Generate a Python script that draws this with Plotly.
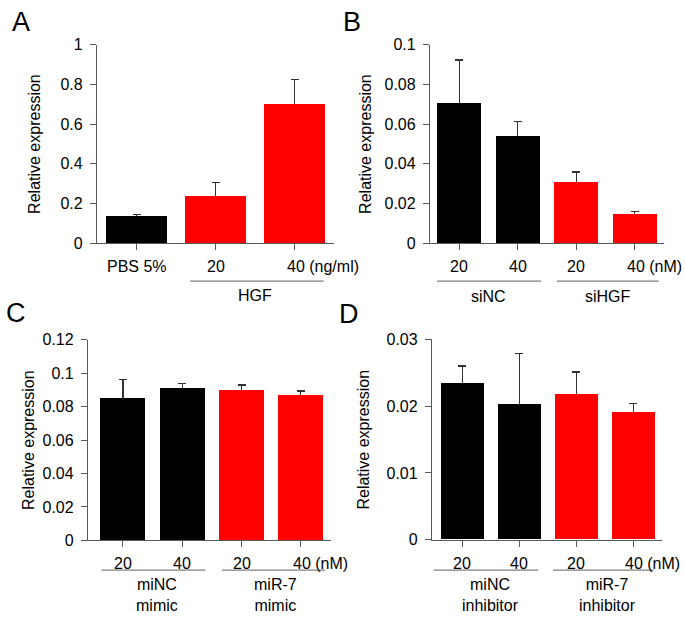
import plotly.graph_objects as go

# ---------------- data ----------------
A_labels = ["PBS 5%", "20", "40 (ng/ml)"]
A_values = [0.137, 0.240, 0.703]
A_errors = [0.007, 0.066, 0.122]
A_colors = ["black", "red", "red"]
A_yticks = [0, 0.2, 0.4, 0.6, 0.8, 1]
A_yticktext = ["0", "0.2", "0.4", "0.6", "0.8", "1"]

B_labels = ["20", "40", "20", "40 (nM)"]
B_values = [0.0708, 0.0540, 0.0308, 0.0150]
B_errors = [0.0215, 0.0074, 0.0051, 0.0009]
B_colors = ["black", "black", "red", "red"]
B_yticks = [0, 0.02, 0.04, 0.06, 0.08, 0.1]
B_yticktext = ["0", "0.02", "0.04", "0.06", "0.08", "0.1"]
B_groups = ["siNC", "siHGF"]

C_labels = ["20", "40", "20", "40 (nM)"]
C_values = [0.0853, 0.0911, 0.0901, 0.0874]
C_errors = [0.0110, 0.0026, 0.0029, 0.0018]
C_colors = ["black", "black", "red", "red"]
C_yticks = [0, 0.02, 0.04, 0.06, 0.08, 0.1, 0.12]
C_yticktext = ["0", "0.02", "0.04", "0.06", "0.08", "0.1", "0.12"]
C_groups = ["miNC<br>mimic", "miR-7<br>mimic"]

D_labels = ["20", "40", "20", "40 (nM)"]
D_values = [0.0234, 0.0203, 0.0218, 0.0190]
D_errors = [0.0026, 0.0076, 0.0033, 0.0014]
D_colors = ["black", "black", "red", "red"]
D_yticks = [0, 0.01, 0.02, 0.03]
D_yticktext = ["0", "0.01", "0.02", "0.03"]
D_groups = ["miNC<br>inhibitor", "miR-7<br>inhibitor"]

W, H = 685, 622
FONT = "Liberation Sans, Arial, sans-serif"
AXC = "#595959"

def px(x):
    return x / W

def py(y):
    return 1 - y / H

fig = go.Figure()

panels = [
    dict(labels=A_labels, values=A_values, errors=A_errors, colors=A_colors,
         yticks=A_yticks, ytt=A_yticktext, xd=(97, 334), yd=(241.7, 37.7), yr=[0, 1],
         xr=[-0.5, 2.5], letter="A", lpos=(21, 14), tx=35, bw=0.77),
    dict(labels=B_labels, values=B_values, errors=B_errors, colors=B_colors,
         yticks=B_yticks, ytt=B_yticktext, xd=(430, 664), yd=(241.7, 37.7), yr=[0, 0.1],
         xr=[-0.5, 3.5], letter="B", lpos=(352, 14), tx=366, bw=0.75),
    dict(labels=C_labels, values=C_values, errors=C_errors, colors=C_colors,
         yticks=C_yticks, ytt=C_yticktext, xd=(88, 331), yd=(547.3, 341), yr=[0, 0.12],
         xr=[-0.59, 3.51], letter="C", lpos=(16, 314), tx=28, bw=0.76),
    dict(labels=D_labels, values=D_values, errors=D_errors, colors=D_colors,
         yticks=D_yticks, ytt=D_yticktext, xd=(432, 662), yd=(546.7, 340.7), yr=[0, 0.03],
         xr=[-0.53, 3.5], letter="D", lpos=(349, 315), tx=364, bw=0.75),
]

annotations = []
shapes = []

for i, p in enumerate(panels):
    k = "" if i == 0 else str(i + 1)
    n = len(p["values"])
    xs = list(range(n))
    # bars carrying symmetric error bars (lower half hidden by the covering bars)
    fig.add_trace(go.Bar(
        x=xs, y=p["values"], width=p["bw"],
        marker=dict(color=p["colors"], line=dict(width=0)),
        error_y=dict(type="data", array=p["errors"], symmetric=True,
                     color="#333333", thickness=1.4, width=4),
        xaxis="x" + k, yaxis="y" + k, showlegend=False, hoverinfo="skip",
    ))
    # covering bars
    fig.add_trace(go.Bar(
        x=xs, y=p["values"], width=p["bw"],
        marker=dict(color=p["colors"], line=dict(width=0)),
        xaxis="x" + k, yaxis="y" + k, showlegend=False, hoverinfo="skip",
    ))
    fig.update_layout(**{
        "xaxis" + k: dict(domain=[px(p["xd"][0]), px(p["xd"][1])], range=p["xr"],
                          anchor="y" + k, showline=True, linecolor=AXC, linewidth=1.3,
                          ticks="outside", ticklen=6, tickcolor=AXC, tickwidth=1.2,
                          tickvals=xs, showticklabels=False, showgrid=False,
                          zeroline=False, fixedrange=True),
        "yaxis" + k: dict(domain=[py(p["yd"][0]), py(p["yd"][1])], range=p["yr"],
                          anchor="x" + k, showline=True, linecolor=AXC, linewidth=1.3,
                          ticks="outside", ticklen=6, tickcolor=AXC, tickwidth=1.2,
                          tickvals=p["yticks"], ticktext=p["ytt"], ticklabelstandoff=4,
                          tickfont=dict(family=FONT, size=16, color="black"),
                          showgrid=False, zeroline=False, fixedrange=True),
    })
    annotations.append(dict(text=p["letter"], x=px(p["lpos"][0]), y=py(p["lpos"][1]),
                            xref="paper", yref="paper", showarrow=False,
                            font=dict(family=FONT, size=27, color="black"),
                            xanchor="center", yanchor="middle"))
    ymid = (p["yd"][0] + p["yd"][1]) / 2
    annotations.append(dict(text="Relative expression", x=px(p["tx"]), y=py(ymid),
                            xref="paper", yref="paper", showarrow=False, textangle=-90,
                            font=dict(family=FONT, size=16, color="black"),
                            xanchor="center", yanchor="middle"))
    lab_y = p["yd"][0] + 24
    for j, lab in enumerate(p["labels"]):
        if "(" in lab:
            annotations.append(dict(text=lab, x=j, y=py(lab_y), xref="x" + k, yref="paper",
                                    showarrow=False, xanchor="left", yanchor="middle",
                                    xshift=-10,
                                    font=dict(family=FONT, size=16, color="black")))
        else:
            annotations.append(dict(text=lab, x=j, y=py(lab_y), xref="x" + k, yref="paper",
                                    showarrow=False, xanchor="center", yanchor="middle",
                                    font=dict(family=FONT, size=16, color="black")))

LINEC = "#7f7f7f"
shapes.append(dict(type="line", xref="x", yref="paper", x0=0.68, x1=2.37,
                   y0=py(280.7), y1=py(280.7), line=dict(color=LINEC, width=1.2)))
annotations.append(dict(text="HGF", x=1.5, y=py(296), xref="x", yref="paper",
                        showarrow=False, xanchor="center", yanchor="middle",
                        font=dict(family=FONT, size=16, color="black")))

group_specs = [
    ("2", B_groups, 280.7, [(-0.38, 1.40), (1.67, 3.41)], [0.5, 2.55], 297),
    ("3", C_groups, 578, [(-0.36, 1.39), (1.67, 3.41)], [0.57, 2.57], 604),
    ("4", D_groups, 578, [(-0.5, 1.33), (1.59, 3.35)], [0.49, 2.55], 604),
]
for k, groups, ly, spans, centers, gy in group_specs:
    for (a, b), c, g in zip(spans, centers, groups):
        shapes.append(dict(type="line", xref="x" + k, yref="paper", x0=a, x1=b,
                           y0=py(ly), y1=py(ly), line=dict(color=LINEC, width=1.2)))
        annotations.append(dict(text=g, x=c, y=py(gy), xref="x" + k, yref="paper",
                                showarrow=False, xanchor="center", yanchor="middle",
                                font=dict(family=FONT, size=16, color="black")))

fig.update_layout(
    width=W, height=H,
    margin=dict(l=0, r=0, t=0, b=0),
    paper_bgcolor="white", plot_bgcolor="white",
    annotations=annotations, shapes=shapes,
    barmode="overlay", bargap=0,
    font=dict(family=FONT, size=16, color="black"),
)

fig.write_html("out.html", config={"displayModeBar": False},
               post_script="document.body.style.margin='0';document.body.style.overflow='hidden';")
